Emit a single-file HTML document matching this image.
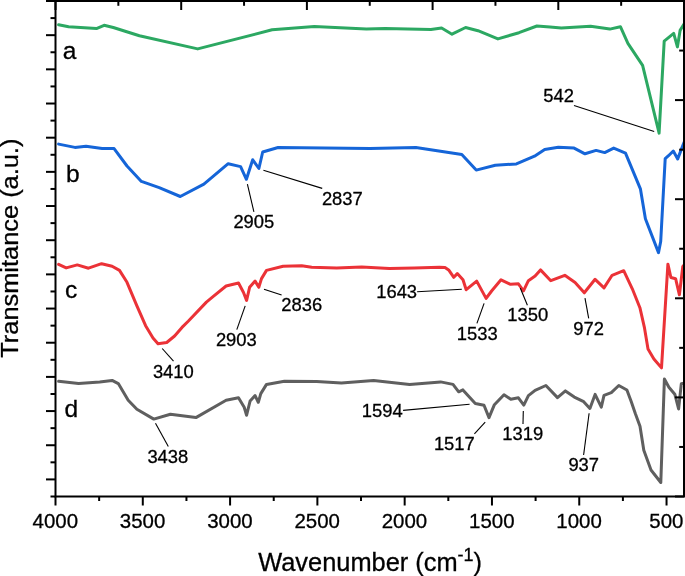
<!DOCTYPE html>
<html><head><meta charset="utf-8"><title>FTIR spectra</title>
<style>html,body{margin:0;padding:0;background:#fff;overflow:hidden}svg{display:block}</style>
</head><body>
<svg width="685" height="576" viewBox="0 0 685 576">
<rect width="685" height="576" fill="#fff"/>
<g fill="none" stroke-width="3" stroke-linejoin="round" stroke-linecap="round">
<polyline stroke="#2ca862" points="58.6,24.8 68.6,26.8 96.4,28.6 104.1,25.3 113.3,27.5 139.4,35.7 197.7,48.9 272.1,29.8 314.3,26.5 366.4,29.0 385.0,28.5 430.9,29.5 441.6,28.0 452.0,34.2 465.6,27.5 478.0,30.7 497.9,38.9 519.0,32.7 536.9,26.0 550.0,26.9 561.3,28.0 590.6,26.2 609.8,29.1 620.4,26.7 627.9,43.4 642.6,65.3 659.1,133.1 664.2,41.2 673.7,33.4 677.4,46.9 680.1,30.4 685.0,22.5"/>
<polyline stroke="#1565d8" points="58.6,144.1 74.9,147.4 86.0,146.2 102.1,148.6 114.1,148.6 127.0,166.0 141.4,181.4 159.2,187.6 180.3,196.5 203.9,184.1 228.2,163.7 240.6,166.6 246.4,179.3 252.7,159.8 258.9,168.5 262.7,152.0 278.1,147.5 370.0,148.5 415.9,147.4 461.8,154.5 476.2,170.1 495.3,165.2 516.4,163.9 534.5,156.2 544.7,149.4 558.3,147.2 574.1,148.1 585.0,153.8 596.1,150.4 604.7,152.6 613.7,148.1 625.5,153.1 640.4,188.8 645.4,218.7 658.5,252.6 660.7,241.5 665.2,158.6 668.5,155.7 673.3,151.0 677.7,158.9 682.3,146.9 685.0,140.0"/>
<polyline stroke="#eb3237" points="58.6,264.3 66.2,267.9 77.3,264.9 88.5,268.2 101.6,263.7 112.1,266.2 119.5,270.4 127.0,282.3 136.9,305.9 145.6,325.7 153.0,338.1 158.0,343.8 166.7,342.5 174.6,336.0 182.0,327.4 188.2,321.2 206.4,302.1 212.4,297.2 226.1,286.0 238.5,283.0 243.4,292.2 246.6,300.4 249.6,287.3 255.1,281.1 258.8,287.3 261.5,278.6 266.5,270.4 283.1,266.2 301.7,265.7 311.7,267.3 336.7,268.0 361.7,266.9 389.4,268.5 414.4,268.0 439.4,267.2 445.0,267.6 449.0,270.3 453.8,277.3 457.3,273.6 463.0,279.8 466.2,289.7 476.7,281.1 486.1,298.4 491.6,291.0 501.0,279.8 510.5,284.3 518.4,283.8 523.5,290.8 528.4,280.7 535.1,276.1 540.5,269.9 550.8,280.7 564.8,275.3 575.1,282.5 584.3,292.8 595.1,279.3 604.0,287.9 612.1,275.3 623.7,270.7 632.3,288.8 639.9,307.7 644.5,327.9 648.0,349.0 653.9,359.0 661.5,367.9 667.9,264.2 670.9,277.5 675.6,278.7 679.4,294.8 682.8,266.5 685.0,264.0"/>
<polyline stroke="#5f5f5f" points="58.6,381.3 78.6,383.6 99.7,381.9 112.1,380.4 118.3,383.6 128.2,400.3 136.9,409.2 153.8,419.1 170.4,414.2 195.9,417.6 226.1,400.3 238.5,397.8 244.2,407.2 246.6,415.2 250.1,401.0 255.1,395.6 258.3,402.3 260.8,393.6 266.5,384.4 284.4,381.2 316.6,381.4 341.4,382.9 373.6,380.4 409.6,384.4 440.6,381.9 453.0,384.4 458.7,391.8 462.9,389.9 475.3,403.5 484.0,405.2 489.0,417.6 494.4,404.7 504.0,394.8 510.8,399.2 518.4,397.8 523.8,405.1 528.4,395.7 535.1,390.3 545.9,385.5 557.5,397.6 565.4,390.9 574.3,397.1 583.7,401.7 589.9,408.4 595.1,394.4 601.3,407.1 604.0,395.4 611.3,392.7 618.8,385.5 626.9,390.0 631.2,401.6 635.4,413.8 640.0,426.2 643.8,450.2 651.0,470.0 660.8,482.5 664.4,379.0 668.9,387.2 674.8,394.2 678.6,409.0 681.3,383.8 685.0,383.0"/>
</g>
<g stroke="#000" stroke-width="1.1">
<line x1="574" y1="105.6" x2="654.2" y2="131.6"/>
<line x1="247.4" y1="184.2" x2="253.9" y2="211.8"/>
<line x1="263.4" y1="170.2" x2="322.2" y2="188.4"/>
<line x1="162.2" y1="348.5" x2="173.5" y2="361.2"/>
<line x1="245.2" y1="305.9" x2="236.8" y2="329.6"/>
<line x1="264" y1="289.2" x2="281.6" y2="295"/>
<line x1="417.1" y1="291.7" x2="461.8" y2="289.2"/>
<line x1="484.1" y1="303.4" x2="476.9" y2="323.4"/>
<line x1="520.3" y1="288" x2="527.4" y2="305.3"/>
<line x1="585" y1="298.2" x2="588.7" y2="318.4"/>
<line x1="155.5" y1="423.3" x2="168.3" y2="446.6"/>
<line x1="403.1" y1="410.4" x2="469.6" y2="404.2"/>
<line x1="474.4" y1="433.9" x2="485.2" y2="422.1"/>
<line x1="523.3" y1="411" x2="523" y2="423.9"/>
<line x1="589.1" y1="413.2" x2="583.6" y2="455"/>
</g>
<g stroke="#000" stroke-width="2" stroke-linecap="butt"><rect x="55.5" y="1.0" width="628.5" height="495.5" fill="none" stroke="#000" stroke-width="2"/><line x1="55.50" y1="496.5" x2="55.50" y2="505.5"/><line x1="99.15" y1="496.5" x2="99.15" y2="501.0"/><line x1="142.79" y1="496.5" x2="142.79" y2="505.5"/><line x1="186.44" y1="496.5" x2="186.44" y2="501.0"/><line x1="230.08" y1="496.5" x2="230.08" y2="505.5"/><line x1="273.73" y1="496.5" x2="273.73" y2="501.0"/><line x1="317.38" y1="496.5" x2="317.38" y2="505.5"/><line x1="361.02" y1="496.5" x2="361.02" y2="501.0"/><line x1="404.67" y1="496.5" x2="404.67" y2="505.5"/><line x1="448.31" y1="496.5" x2="448.31" y2="501.0"/><line x1="491.96" y1="496.5" x2="491.96" y2="505.5"/><line x1="535.60" y1="496.5" x2="535.60" y2="501.0"/><line x1="579.25" y1="496.5" x2="579.25" y2="505.5"/><line x1="622.90" y1="496.5" x2="622.90" y2="501.0"/><line x1="666.54" y1="496.5" x2="666.54" y2="505.5"/><line x1="55.50" y1="1.0" x2="55.50" y2="10.0"/><line x1="118.35" y1="1.0" x2="118.35" y2="5.8"/><line x1="181.20" y1="1.0" x2="181.20" y2="10.0"/><line x1="244.05" y1="1.0" x2="244.05" y2="5.8"/><line x1="306.90" y1="1.0" x2="306.90" y2="10.0"/><line x1="369.75" y1="1.0" x2="369.75" y2="5.8"/><line x1="432.60" y1="1.0" x2="432.60" y2="10.0"/><line x1="495.45" y1="1.0" x2="495.45" y2="5.8"/><line x1="558.30" y1="1.0" x2="558.30" y2="10.0"/><line x1="621.15" y1="1.0" x2="621.15" y2="5.8"/><line x1="684.00" y1="1.0" x2="684.00" y2="10.0"/><line x1="46.0" y1="1.00" x2="55.5" y2="1.00"/><line x1="50.5" y1="18.09" x2="55.5" y2="18.09"/><line x1="46.0" y1="35.17" x2="55.5" y2="35.17"/><line x1="50.5" y1="52.26" x2="55.5" y2="52.26"/><line x1="46.0" y1="69.34" x2="55.5" y2="69.34"/><line x1="50.5" y1="86.43" x2="55.5" y2="86.43"/><line x1="46.0" y1="103.52" x2="55.5" y2="103.52"/><line x1="50.5" y1="120.60" x2="55.5" y2="120.60"/><line x1="46.0" y1="137.69" x2="55.5" y2="137.69"/><line x1="50.5" y1="154.78" x2="55.5" y2="154.78"/><line x1="46.0" y1="171.86" x2="55.5" y2="171.86"/><line x1="50.5" y1="188.95" x2="55.5" y2="188.95"/><line x1="46.0" y1="206.03" x2="55.5" y2="206.03"/><line x1="50.5" y1="223.12" x2="55.5" y2="223.12"/><line x1="46.0" y1="240.21" x2="55.5" y2="240.21"/><line x1="50.5" y1="257.29" x2="55.5" y2="257.29"/><line x1="46.0" y1="274.38" x2="55.5" y2="274.38"/><line x1="50.5" y1="291.47" x2="55.5" y2="291.47"/><line x1="46.0" y1="308.55" x2="55.5" y2="308.55"/><line x1="50.5" y1="325.64" x2="55.5" y2="325.64"/><line x1="46.0" y1="342.72" x2="55.5" y2="342.72"/><line x1="50.5" y1="359.81" x2="55.5" y2="359.81"/><line x1="46.0" y1="376.90" x2="55.5" y2="376.90"/><line x1="50.5" y1="393.98" x2="55.5" y2="393.98"/><line x1="46.0" y1="411.07" x2="55.5" y2="411.07"/><line x1="50.5" y1="428.16" x2="55.5" y2="428.16"/><line x1="46.0" y1="445.24" x2="55.5" y2="445.24"/><line x1="50.5" y1="462.33" x2="55.5" y2="462.33"/><line x1="46.0" y1="479.41" x2="55.5" y2="479.41"/><line x1="50.5" y1="496.50" x2="55.5" y2="496.50"/><line x1="675.0" y1="1.00" x2="684.0" y2="1.00"/><line x1="679.2" y1="50.55" x2="684.0" y2="50.55"/><line x1="675.0" y1="100.10" x2="684.0" y2="100.10"/><line x1="679.2" y1="149.65" x2="684.0" y2="149.65"/><line x1="675.0" y1="199.20" x2="684.0" y2="199.20"/><line x1="679.2" y1="248.75" x2="684.0" y2="248.75"/><line x1="675.0" y1="298.30" x2="684.0" y2="298.30"/><line x1="679.2" y1="347.85" x2="684.0" y2="347.85"/><line x1="675.0" y1="397.40" x2="684.0" y2="397.40"/><line x1="679.2" y1="446.95" x2="684.0" y2="446.95"/><line x1="675.0" y1="496.50" x2="684.0" y2="496.50"/></g>
<g font-family="Liberation Sans, Arial, sans-serif" fill="#000" stroke="#000" stroke-width="0.3"><text x="543.30" y="102.00" font-size="18.4" text-anchor="start">542</text><text x="233.40" y="227.70" font-size="18.4" text-anchor="start">2905</text><text x="321.90" y="205.20" font-size="18.4" text-anchor="start">2837</text><text x="152.90" y="378.00" font-size="18.4" text-anchor="start">3410</text><text x="215.90" y="345.90" font-size="18.4" text-anchor="start">2903</text><text x="281.30" y="311.30" font-size="18.4" text-anchor="start">2836</text><text x="376.20" y="297.80" font-size="18.4" text-anchor="start">1643</text><text x="456.80" y="340.00" font-size="18.4" text-anchor="start">1533</text><text x="507.30" y="321.40" font-size="18.4" text-anchor="start">1350</text><text x="573.30" y="334.80" font-size="18.4" text-anchor="start">972</text><text x="147.40" y="462.90" font-size="18.4" text-anchor="start">3438</text><text x="361.80" y="416.50" font-size="18.4" text-anchor="start">1594</text><text x="433.90" y="450.40" font-size="18.4" text-anchor="start">1517</text><text x="502.30" y="440.00" font-size="18.4" text-anchor="start">1319</text><text x="568.40" y="471.30" font-size="18.4" text-anchor="start">937</text><text transform="translate(55.30,528.20) scale(0.975,1)" font-size="21" text-anchor="middle">4000</text><text transform="translate(142.59,528.20) scale(0.975,1)" font-size="21" text-anchor="middle">3500</text><text transform="translate(229.88,528.20) scale(0.975,1)" font-size="21" text-anchor="middle">3000</text><text transform="translate(317.18,528.20) scale(0.975,1)" font-size="21" text-anchor="middle">2500</text><text transform="translate(404.47,528.20) scale(0.975,1)" font-size="21" text-anchor="middle">2000</text><text transform="translate(491.76,528.20) scale(0.975,1)" font-size="21" text-anchor="middle">1500</text><text transform="translate(579.05,528.20) scale(0.975,1)" font-size="21" text-anchor="middle">1000</text><text transform="translate(666.34,528.20) scale(0.975,1)" font-size="21" text-anchor="middle">500</text><text x="62.87" y="59.10" font-size="24.5" text-anchor="start">a</text><text x="65.90" y="182.30" font-size="24.5" text-anchor="start">b</text><text x="65.10" y="298.30" font-size="24.5" text-anchor="start">c</text><text x="64.60" y="416.80" font-size="24.5" text-anchor="start">d</text><text x="258.20" y="570.60" font-size="25.4">Wavenumber (cm<tspan font-size="18" dy="-9.5">-1</tspan><tspan dy="9.5">)</tspan></text><text transform="translate(18.30,357.70) rotate(-90) scale(1,0.96)" x="0" y="0" font-size="25.4">Transmitance (a.u.)</text></g>
</svg>
</body></html>
